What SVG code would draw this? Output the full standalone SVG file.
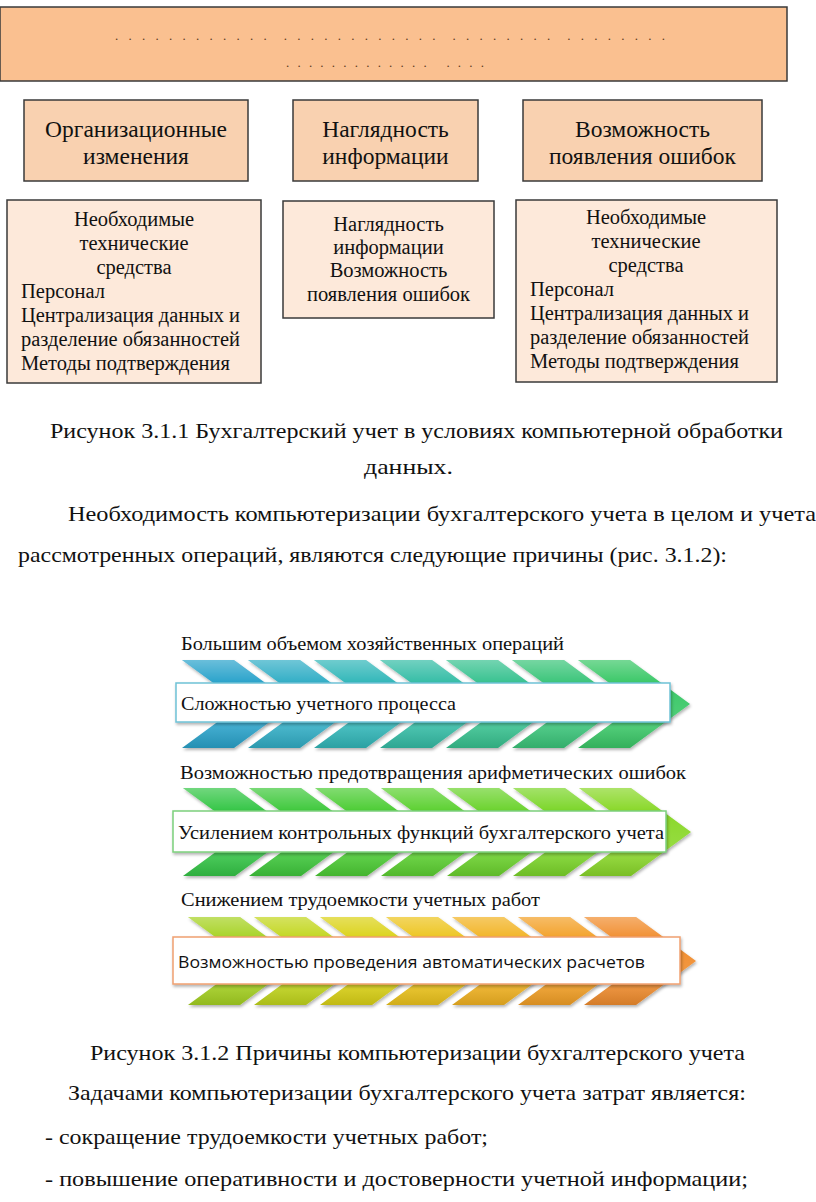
<svg xmlns="http://www.w3.org/2000/svg" xmlns:xlink="http://www.w3.org/1999/xlink" width="816" height="1202" viewBox="0 0 816 1202">
<style>
.serif{font-family:"Liberation Serif","Times New Roman",serif;fill:#111}
.sans{font-family:"Open Sans","Liberation Sans",sans-serif;fill:#111}
.hdr{fill:#F9D1B0;stroke:#3a3a3a;stroke-width:1.5}
.sub{fill:#FDE9DA;stroke:#3a3a3a;stroke-width:1.5}
.h{font-size:23.5px}
.s{font-size:20.5px}
.body{font-size:22px}
.lbl{font-size:19px}
.dots{font-family:"Liberation Serif",serif;font-size:13px;fill:#5a3a20}
</style>
<defs>
<path id="chev" d="M0,0 L52,0 L112,44 L52,88 L0,88 L60,44 Z"/>
<linearGradient id="shine" x1="0" y1="0" x2="0" y2="1">
<stop offset="0" stop-color="#fff" stop-opacity="0.3"/>
<stop offset="0.26" stop-color="#fff" stop-opacity="0"/>
<stop offset="0.74" stop-color="#fff" stop-opacity="0.12"/>
<stop offset="1" stop-color="#000" stop-opacity="0.12"/>
</linearGradient>
<filter id="sh" x="-10%" y="-10%" width="130%" height="130%">
<feDropShadow dx="1" dy="2" stdDeviation="1.5" flood-color="#000" flood-opacity="0.3"/>
</filter>
</defs>

<g id="top-banner">
<rect x="0" y="7" width="787" height="74" fill="#FAC090" stroke="#3a3a3a" stroke-width="1.5"/>
<text class="dots" x="115" y="40" xml:space="preserve" textLength="550" lengthAdjust="spacing">. . . . . . . . . . . .  . . . . . . . . . . . .  . . . . . . . .  . . . . . . . .</text>
<text class="dots" x="286" y="67" xml:space="preserve" textLength="198" lengthAdjust="spacing">. . . . . . . . . . . . .   . . . .</text>
</g>

<g id="hdr-org">
<rect class="hdr" x="24" y="100" width="224" height="81"/>
<text class="serif h" x="136" y="137" text-anchor="middle">Организационные</text>
<text class="serif h" x="136" y="164" text-anchor="middle">изменения</text>
</g>
<g id="hdr-vis">
<rect class="hdr" x="293" y="100" width="185" height="81"/>
<text class="serif h" x="385.5" y="137" text-anchor="middle">Наглядность</text>
<text class="serif h" x="385.5" y="164" text-anchor="middle">информации</text>
</g>
<g id="hdr-err">
<rect class="hdr" x="523" y="100" width="239" height="81"/>
<text class="serif h" x="642.5" y="137" text-anchor="middle">Возможность</text>
<text class="serif h" x="642.5" y="164" text-anchor="middle">появления ошибок</text>
</g>

<g id="sub-org">
<rect class="sub" x="7" y="200" width="254" height="183"/>
<text class="serif s" x="134" y="226" text-anchor="middle">Необходимые</text>
<text class="serif s" x="134" y="250" text-anchor="middle">технические</text>
<text class="serif s" x="134" y="274" text-anchor="middle">средства</text>
<text class="serif s" x="21" y="298">Персонал</text>
<text class="serif s" x="21" y="322" textLength="219" lengthAdjust="spacingAndGlyphs">Централизация данных и</text>
<text class="serif s" x="21" y="346" textLength="219" lengthAdjust="spacingAndGlyphs">разделение обязанностей</text>
<text class="serif s" x="21" y="370" textLength="209" lengthAdjust="spacingAndGlyphs">Методы подтверждения</text>
</g>
<g id="sub-vis">
<rect class="sub" x="283" y="201" width="211" height="117"/>
<text class="serif s" x="388.5" y="231" text-anchor="middle">Наглядность</text>
<text class="serif s" x="388.5" y="254" text-anchor="middle">информации</text>
<text class="serif s" x="388.5" y="277" text-anchor="middle">Возможность</text>
<text class="serif s" x="388.5" y="301" text-anchor="middle">появления ошибок</text>
</g>
<g id="sub-err">
<rect class="sub" x="516" y="200" width="261" height="182"/>
<text class="serif s" x="646" y="224" text-anchor="middle">Необходимые</text>
<text class="serif s" x="646" y="248" text-anchor="middle">технические</text>
<text class="serif s" x="646" y="272" text-anchor="middle">средства</text>
<text class="serif s" x="530" y="296">Персонал</text>
<text class="serif s" x="530" y="320" textLength="219" lengthAdjust="spacingAndGlyphs">Централизация данных и</text>
<text class="serif s" x="530" y="344" textLength="219" lengthAdjust="spacingAndGlyphs">разделение обязанностей</text>
<text class="serif s" x="530" y="368" textLength="209" lengthAdjust="spacingAndGlyphs">Методы подтверждения</text>
</g>

<g id="connectors"></g>

<g id="body-text-1">
<text class="serif body" x="50" y="438" textLength="733" lengthAdjust="spacingAndGlyphs">Рисунок 3.1.1 Бухгалтерский учет в условиях компьютерной обработки</text>
<text class="serif body" x="364" y="474" textLength="89" lengthAdjust="spacingAndGlyphs">данных.</text>
<text class="serif body" x="68" y="521" textLength="748" lengthAdjust="spacingAndGlyphs">Необходимость компьютеризации бухгалтерского учета в целом и учета</text>
<text class="serif body" x="18" y="562" textLength="709" lengthAdjust="spacingAndGlyphs">рассмотренных операций, являются следующие причины (рис. 3.1.2):</text>
</g>

<g id="row1">
<text class="serif lbl" x="181" y="650" textLength="383" lengthAdjust="spacingAndGlyphs">Большим объемом хозяйственных операций</text>
<g filter="url(#sh)">
<use href="#chev" x="182" y="660" fill="#2BA3CB"/>
<use href="#chev" x="248" y="660" fill="#30AEC6"/>
<use href="#chev" x="314" y="660" fill="#33B7B9"/>
<use href="#chev" x="380" y="660" fill="#36BDA6"/>
<use href="#chev" x="446" y="660" fill="#38C290"/>
<use href="#chev" x="512" y="660" fill="#3AC57A"/>
<use href="#chev" x="578" y="660" fill="#3BC868"/>
</g>
<g fill="url(#shine)">
<use href="#chev" x="182" y="660"/><use href="#chev" x="248" y="660"/><use href="#chev" x="314" y="660"/><use href="#chev" x="380" y="660"/><use href="#chev" x="446" y="660"/><use href="#chev" x="512" y="660"/><use href="#chev" x="578" y="660"/>
</g>
<rect x="176" y="683" width="494" height="39" fill="#fff" stroke="#6FC2D6" stroke-width="1.5" filter="url(#sh)"/>
<text class="serif lbl" x="181" y="710" textLength="275" lengthAdjust="spacingAndGlyphs">Сложностью учетного процесса</text>
</g>

<g id="row2">
<text class="serif lbl" x="180" y="779" textLength="506" lengthAdjust="spacingAndGlyphs">Возможностью предотвращения арифметических ошибок</text>
<g filter="url(#sh)">
<use href="#chev" x="183" y="788" fill="#36C646"/>
<use href="#chev" x="249" y="788" fill="#40C93C"/>
<use href="#chev" x="315" y="788" fill="#4DCD34"/>
<use href="#chev" x="381" y="788" fill="#5DD130"/>
<use href="#chev" x="447" y="788" fill="#6CD32D"/>
<use href="#chev" x="513" y="788" fill="#7CD62B"/>
<use href="#chev" x="579" y="788" fill="#8AD829"/>
</g>
<g fill="url(#shine)">
<use href="#chev" x="183" y="788"/><use href="#chev" x="249" y="788"/><use href="#chev" x="315" y="788"/><use href="#chev" x="381" y="788"/><use href="#chev" x="447" y="788"/><use href="#chev" x="513" y="788"/><use href="#chev" x="579" y="788"/>
</g>
<rect x="173" y="811" width="493" height="41" fill="#fff" stroke="#7CD07C" stroke-width="1.5" filter="url(#sh)"/>
<text class="serif lbl" x="178" y="839" textLength="486" lengthAdjust="spacingAndGlyphs">Усилением контрольных функций бухгалтерского учета</text>
</g>

<g id="row3">
<text class="serif lbl" x="181" y="906" textLength="359" lengthAdjust="spacingAndGlyphs">Снижением трудоемкости учетных работ</text>
<g filter="url(#sh)">
<use href="#chev" x="188" y="917" fill="#A6D222"/>
<use href="#chev" x="254" y="917" fill="#C2D61A"/>
<use href="#chev" x="320" y="917" fill="#DBD214"/>
<use href="#chev" x="386" y="917" fill="#EDC41A"/>
<use href="#chev" x="452" y="917" fill="#F2B322"/>
<use href="#chev" x="518" y="917" fill="#F3A028"/>
<use href="#chev" x="584" y="917" fill="#F18D2E"/>
</g>
<g fill="url(#shine)">
<use href="#chev" x="188" y="917"/><use href="#chev" x="254" y="917"/><use href="#chev" x="320" y="917"/><use href="#chev" x="386" y="917"/><use href="#chev" x="452" y="917"/><use href="#chev" x="518" y="917"/><use href="#chev" x="584" y="917"/>
</g>
<rect x="173" y="937" width="507" height="47" fill="#fff" stroke="#F0A070" stroke-width="1.5" filter="url(#sh)"/>
<text class="sans" x="178" y="968" font-size="17" textLength="467" lengthAdjust="spacingAndGlyphs">Возможностью проведения автоматических расчетов</text>
</g>

<g id="body-text-2">
<text class="serif body" x="90" y="1060" textLength="655" lengthAdjust="spacingAndGlyphs">Рисунок 3.1.2 Причины компьютеризации бухгалтерского учета</text>
<text class="serif body" x="68" y="1100" textLength="678" lengthAdjust="spacingAndGlyphs">Задачами компьютеризации бухгалтерского учета затрат является:</text>
<text class="serif body" x="45" y="1144" textLength="443" lengthAdjust="spacingAndGlyphs">- сокращение трудоемкости учетных работ;</text>
<text class="serif body" x="45" y="1186" textLength="703" lengthAdjust="spacingAndGlyphs">- повышение оперативности и достоверности учетной информации;</text>
</g>
</svg>
